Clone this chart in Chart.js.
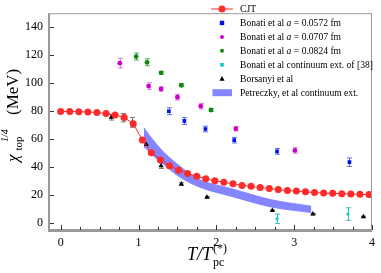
<!DOCTYPE html>
<html>
<head>
<meta charset="utf-8">
<script src="https://cdn.jsdelivr.net/npm/chart.js@4.4.0/dist/chart.umd.min.js"></script>
<style>
  html, body { margin: 0; padding: 0; background: #fff; }
  #wrap { width: 381px; height: 273px; }
</style>
</head>
<body>
<div id="wrap"><canvas id="chart" width="381" height="273"></canvas></div>
<script>
// CJT curve
const cjtX = [0, 0.117, 0.233, 0.350, 0.466, 0.583, 0.699, 0.816, 0.932, 1.049, 1.165, 1.282, 1.398, 1.515,
  1.631, 1.748, 1.864, 1.981, 2.097, 2.214, 2.330, 2.447, 2.563, 2.680, 2.796, 2.913, 3.029, 3.146, 3.262,
  3.379, 3.495, 3.612, 3.728, 3.845, 3.961];
const cjtY = [79.7, 79.7, 79.6, 79.4, 79.0, 78.3, 77.3, 75.5, 71.0, 59.4, 50.3, 45.1, 41.0, 37.8,
  35.4, 33.4, 31.6, 30.3, 29.1, 28.0, 26.9, 26.2, 25.3, 24.6, 23.9, 23.2, 22.8, 22.3, 21.8,
  21.4, 21.2, 21.0, 20.7, 20.5, 20.3];

// Bonati et al, three lattice spacings
const b0572X = [1.39, 1.59, 1.86, 2.23, 2.78, 3.71];
const b0572Y = [79.9, 73.0, 67.2, 59.2, 51.2, 43.5];
const b0572E = [2.5, 2.5, 2, 2, 2, 3];
const b0707X = [0.76, 1.13, 1.29, 1.50, 1.80, 2.25, 3.01];
const b0707Y = [114.3, 97.9, 95.8, 89.9, 83.5, 67.4, 51.9];
const b0707E = [3.5, 2.3, 1.5, 2, 2, 1.5, 2];
const b0824X = [0.97, 1.11, 1.29, 1.55, 1.93];
const b0824Y = [119.0, 114.9, 107.4, 98.5, 80.8];
const b0824E = [2.5, 2.5, 1, 1, 1];
// Bonati continuum extrapolation
const bContX = [2.78, 3.69];
const bContY = [3.0, 6.4];
const bContE = [3.4, 4.5];
// Borsanyi et al
const borsX = [0.65, 0.80, 0.92, 1.10, 1.29, 1.55, 1.88, 2.72, 3.24, 3.89];
const borsY = [75.6, 75.3, 71.9, 56.2, 41.0, 27.8, 18.4, 8.9, 6.4, 4.4];
const borsE = [2, 3, 3.5, 2, 2, 1, 0.5, 0.5, 0.5, 0.5];
// Petreczky et al continuum band
const petX = [1.07, 1.15, 1.30, 1.50, 1.77, 2.20, 2.71, 3.22];
const petHi = [68, 62, 52, 42, 31.5, 24.5, 16.6, 12];
const petLo = [55, 50, 43, 34, 26, 19, 11.4, 7.5];

const xTicks = [0, 1, 2, 3, 4];
const yTicks = [0, 20, 40, 60, 80, 100, 120, 140];

const legendLabels = [
  'CJT',
  'Bonati et al |a| = 0.0572 fm',
  'Bonati et al |a| = 0.0707 fm',
  'Bonati et al |a| = 0.0824 fm',
  'Bonati et al continuum ext. of [38]',
  'Borsanyi et al',
  'Petreczky, et al continuum ext.'
];

const RED = '#ff2a2a', BLUE = '#0010ee', MAG = '#cc00cc', GREEN = '#0a8a0a', CYAN = '#10c8c8', BAND = '#8585ff';
const SERIF = '"Liberation Serif", "DejaVu Serif", serif';

const pts = (xs, ys) => xs.map((x, i) => ({ x: x, y: ys[i] }));

function markerSet(label, xs, ys, color, style, r, errs, errColor) {
  return {
    label: label, data: pts(xs, ys), showLine: false,
    pointStyle: style, pointRadius: r, pointBackgroundColor: color, pointBorderColor: color,
    pointBorderWidth: 0, order: 1, errs: errs, errColor: errColor
  };
}

const datasets = [
  {
    label: 'CJT', data: pts(cjtX, cjtY), showLine: true, borderColor: RED, borderWidth: 1,
    pointRadius: 3.5, pointBackgroundColor: RED, pointBorderWidth: 0, order: 0
  },
  markerSet('b0572', b0572X, b0572Y, BLUE, 'rect', 2.6, b0572E, '#5a6aff'),
  markerSet('b0707', b0707X, b0707Y, MAG, 'circle', 2.4, b0707E, '#e07ae0'),
  markerSet('b0824', b0824X, b0824Y, GREEN, 'circle', 2.4, b0824E, '#55aa55'),
  markerSet('bcont', bContX, bContY, CYAN, 'rect', 2, bContE, '#30c0c0'),
  markerSet('bors', borsX, borsY, '#000', 'triangle', 3, borsE, '#777'),
  {
    label: 'petHi', data: pts(petX, petHi), showLine: true, borderColor: BAND, borderWidth: 1,
    pointRadius: 0, tension: 0.4, cubicInterpolationMode: 'monotone', fill: false, order: 10
  },
  {
    label: 'petLo', data: pts(petX, petLo), showLine: true, borderColor: BAND, borderWidth: 1,
    pointRadius: 0, tension: 0.4, cubicInterpolationMode: 'monotone', fill: '-1', backgroundColor: BAND, order: 10
  }
];

function drawMarker(ctx, style, x, y, r, color) {
  ctx.fillStyle = color;
  ctx.beginPath();
  if (style === 'rect') ctx.rect(x - r, y - r, 2 * r, 2 * r);
  else if (style === 'triangle') {
    ctx.moveTo(x, y - r * 1.1); ctx.lineTo(x + r, y + r * 0.8); ctx.lineTo(x - r, y + r * 0.8); ctx.closePath();
  } else ctx.arc(x, y, r, 0, Math.PI * 2);
  ctx.fill();
}

const decor = {
  id: 'decor',
  beforeDatasetsDraw(chart) {
    const ctx = chart.ctx, xs = chart.scales.x, ys = chart.scales.y;
    ctx.save();
    chart.data.datasets.forEach(ds => {
      if (!ds.errs) return;
      ctx.strokeStyle = ds.errColor; ctx.lineWidth = 1;
      ds.data.forEach((p, i) => {
        const e = ds.errs[i];
        const px = Math.round(xs.getPixelForValue(p.x)) + 0.5;
        const top = ys.getPixelForValue(p.y + e), bot = ys.getPixelForValue(p.y - e);
        ctx.beginPath();
        ctx.moveTo(px, top); ctx.lineTo(px, bot);
        ctx.moveTo(px - 2.5, top); ctx.lineTo(px + 2.5, top);
        ctx.moveTo(px - 2.5, bot); ctx.lineTo(px + 2.5, bot);
        ctx.stroke();
      });
    });
    ctx.restore();
  },
  afterDraw(chart) {
    const ctx = chart.ctx, a = chart.chartArea, xs = chart.scales.x, ys = chart.scales.y;
    ctx.save();
    // frame
    ctx.strokeStyle = '#999'; ctx.lineWidth = 1;
    ctx.strokeRect(a.left + 0.5, a.top + 0.5, a.right - a.left - 1, a.bottom - a.top - 1);
    ctx.lineWidth = 2;
    ctx.beginPath();
    ctx.moveTo(a.left, a.top); ctx.lineTo(a.left, a.bottom + 1); ctx.lineTo(a.right, a.bottom + 1);
    ctx.stroke();
    // ticks pointing inward
    ctx.strokeStyle = '#333'; ctx.lineWidth = 1;
    ctx.beginPath();
    for (let v = 0; v <= 4.001; v += 0.25) {
      const px = Math.round(xs.getPixelForValue(v)) + 0.5;
      const len = Math.abs(v - Math.round(v)) < 1e-6 ? 5 : 3;
      ctx.moveTo(px, a.bottom); ctx.lineTo(px, a.bottom - len);
    }
    yTicks.forEach(v => {
      const py = Math.round(ys.getPixelForValue(v)) + 0.5;
      ctx.moveTo(a.left + 1, py); ctx.lineTo(a.left + 5, py);
    });
    ctx.stroke();

    // y title
    ctx.fillStyle = '#000';
    ctx.save();
    ctx.translate(18, 162);
    ctx.rotate(-Math.PI / 2);
    ctx.textBaseline = 'alphabetic'; ctx.textAlign = 'left';
    ctx.font = 'italic 17px ' + SERIF;
    ctx.fillText('\u03c7', 0, 0);
    ctx.font = '11px ' + SERIF;
    ctx.fillText('top', 11.5, 4);
    ctx.font = 'italic 10px ' + SERIF;
    ctx.fillText('1/4', 20, -10.5);
    ctx.font = '17px ' + SERIF;
    ctx.fillText('(MeV)', 47, 0);
    ctx.restore();

    // x title
    ctx.font = 'italic 18px ' + SERIF;
    ctx.fillText('T/T', 187, 260);
    const w = ctx.measureText('T/T').width;
    ctx.font = '12px ' + SERIF;
    ctx.fillText('pc', 187 + w + 1, 266);
    ctx.fillText('(*)', 187 + w + 1, 251.5);

    // legend
    const lx = 222, tx = 240, ly0 = 9, dy = 13.95;
    const styles = [null, ['rect', BLUE, 2.2], ['circle', MAG, 2], ['circle', GREEN, 2], ['rect', CYAN, 1.8], ['triangle', '#000', 2.6]];
    legendLabels.forEach((lab, i) => {
      const y = ly0 + i * dy;
      if (i === 0) {
        ctx.strokeStyle = RED; ctx.lineWidth = 1;
        ctx.beginPath(); ctx.moveTo(lx - 11, y); ctx.lineTo(lx + 11, y); ctx.stroke();
        drawMarker(ctx, 'circle', lx, y, 3.5, RED);
      } else if (i === 6) {
        ctx.fillStyle = BAND; ctx.fillRect(lx - 9.5, y - 3.5, 19.5, 7);
      } else {
        drawMarker(ctx, styles[i][0], lx, y, styles[i][2], styles[i][1]);
      }
      ctx.fillStyle = '#000'; ctx.textBaseline = 'middle';
      let x = tx;
      lab.split('|').forEach((part, k) => {
        ctx.font = (k % 2 ? 'italic ' : '') + '9.6px ' + SERIF;
        ctx.fillText(part, x, y + 0.5);
        x += ctx.measureText(part).width;
      });
    });
    ctx.restore();
  }
};

new Chart(document.getElementById('chart'), {
  type: 'scatter',
  data: { datasets: datasets },
  options: {
    responsive: false,
    animation: false,
    layout: { padding: { top: 3, right: 6, left: 0, bottom: 0 } },
    plugins: { legend: { display: false }, tooltip: { enabled: false } },
    scales: {
      x: {
        type: 'linear', min: -0.15, max: 4,
        afterFit: s => { s.height = 43; },
        grid: { display: false, drawTicks: false },
        border: { display: false },
        afterBuildTicks: s => { s.ticks = xTicks.map(v => ({ value: v })); },
        ticks: { padding: 6, color: '#000', font: { family: SERIF, size: 12 }, maxRotation: 0 }
      },
      y: {
        type: 'linear', min: -5, max: 150,
        afterFit: s => { s.width = 49; },
        grid: { display: false, drawTicks: false },
        border: { display: false },
        afterBuildTicks: s => { s.ticks = yTicks.map(v => ({ value: v })); },
        ticks: { padding: 6, color: '#000', font: { family: SERIF, size: 12 } }
      }
    }
  },
  plugins: [decor]
});
</script>
</body>
</html>
